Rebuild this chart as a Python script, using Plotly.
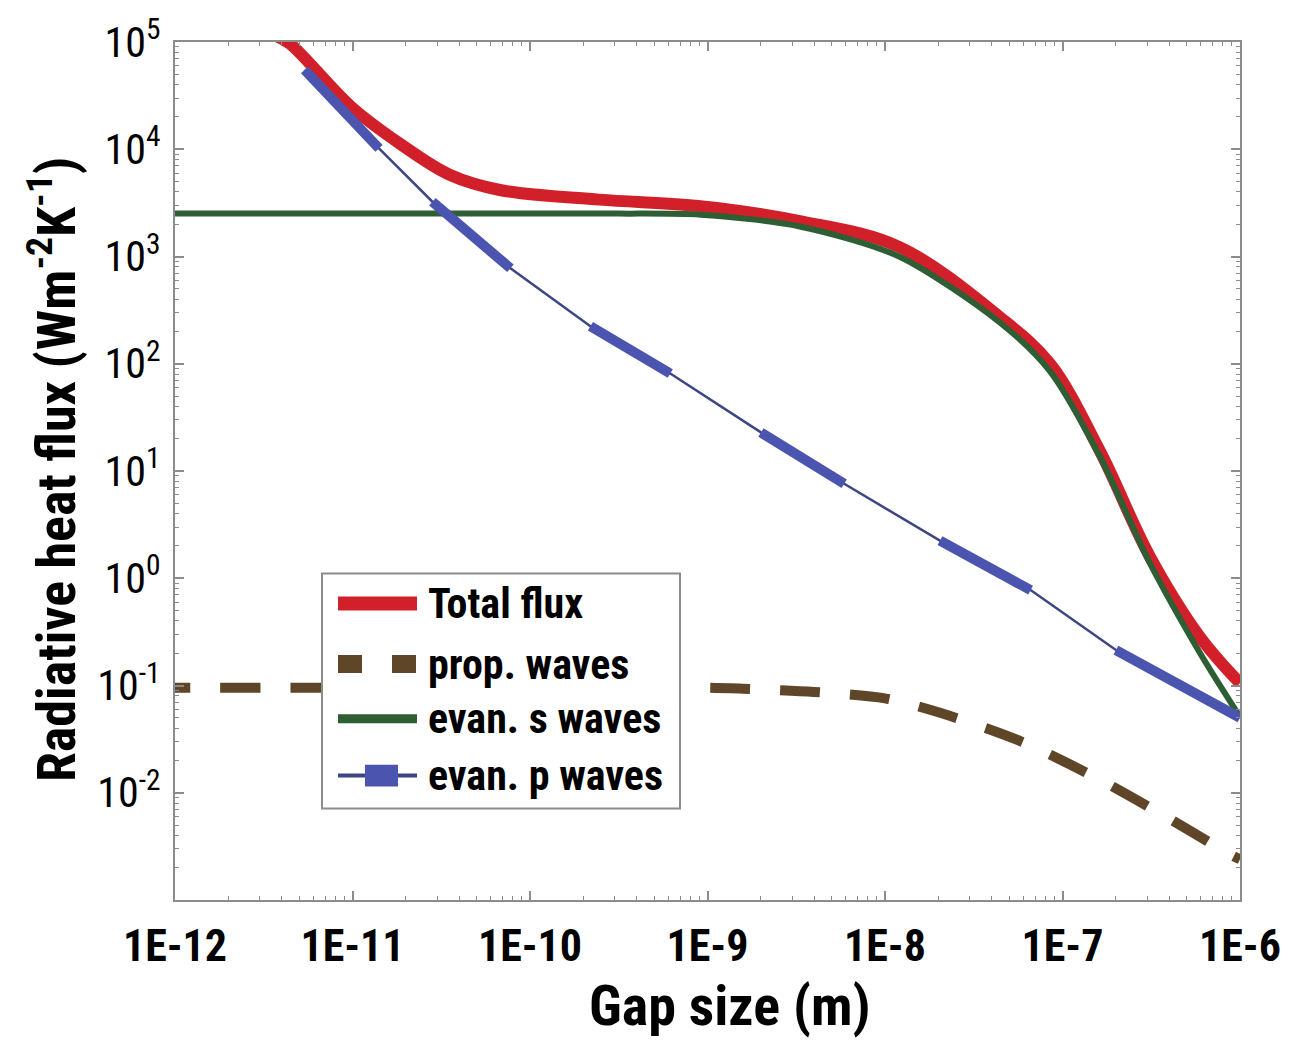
import plotly.graph_objects as go

# ---- data (gap size in m, heat flux in W m^-2 K^-1) ----
gap_total = [3.80e-12, 4.47e-12, 9.77e-12, 1.86e-11, 3.55e-11, 6.76e-11, 2.45e-10,
             9.12e-10, 3.31e-9, 1.20e-8, 4.47e-8, 8.51e-8, 1.62e-7, 3.09e-7, 5.96e-7, 1.0e-6]
flux_total = [1.12e5, 9.55e4, 2.51e4, 1.12e4, 5.75e3, 4.17e3, 3.39e3,
              2.95e3, 2.14e3, 1.23e3, 269, 100, 15.5, 1.62, 0.282, 0.105]

gap_prop = [7.24e-13, 1.0e-11, 1.0e-10, 1.0e-9, 1.58e-9, 3.98e-9, 1.0e-8, 2.0e-8, 5.62e-8,
            1.51e-7, 3.89e-7, 8.71e-7, 1.0e-6]
flux_prop = [0.0955, 0.0955, 0.0955, 0.0955, 0.0933, 0.0871, 0.0759, 0.0562, 0.0309,
             0.0141, 0.00589, 0.00269, 0.0024]

gap_s = [1.0e-12, 1.0e-11, 1.0e-10, 3.16e-10, 9.12e-10, 3.31e-9, 1.20e-8, 4.47e-8, 8.51e-8,
         1.62e-7, 3.09e-7, 5.96e-7, 1.0e-6]
flux_s = [2512, 2512, 2512, 2512, 2455, 1905, 1000, 240, 85, 13.8, 1.41, 0.20, 0.051]

gap_p = [5.37e-12, 1.41e-11, 2.82e-11, 7.76e-11, 2.19e-10, 6.17e-10,
         2.00e-9, 5.89e-9, 2.04e-8, 6.61e-8, 2.00e-7, 1.0e-6]
flux_p = [5.5e4, 1.02e4, 3.24e3, 776, 224, 81, 22.9, 7.6, 2.24, 0.776, 0.214, 0.050]
# index pairs of the p-wave points joined by the heavy marker segments
p_marker_pairs = [(0, 1), (2, 3), (4, 5), (6, 7), (8, 9), (10, 11)]

x_tickvals = [1e-12, 1e-11, 1e-10, 1e-9, 1e-8, 1e-7, 1e-6]
x_ticktext = ["1E-12", "1E-11", "1E-10", "1E-9", "1E-8", "1E-7", "1E-6"]
y_tickvals = [1e-2, 1e-1, 1e0, 1e1, 1e2, 1e3, 1e4, 1e5]
y_ticktext = ["10<sup>-2</sup>", "10<sup>-1</sup>", "10<sup>0</sup>", "10<sup>1</sup>",
              "10<sup>2</sup>", "10<sup>3</sup>", "10<sup>4</sup>", "10<sup>5</sup>"]

legend_labels = ["Total flux", "prop. waves", "evan. s waves", "evan. p waves"]

# ---- styling ----
RED = "#d2202b"
BROWN = "#5f4628"
GREEN = "#2e5e34"
BLUE = "#4b55b0"
BLUE_THIN = "#3d4585"
AXIS_GREY = "#8c8c8c"
FONT = "Liberation Sans Narrow, Arial Narrow, Roboto Condensed, Liberation Sans, Arial, sans-serif"

W, H = 1295, 1041
ML, MR, MT, MB = 175, 55, 38, 141
PW, PH = W - ML - MR, H - MT - MB


def px(xp):
    return (xp - ML) / PW


def py(yp):
    return (H - MB - yp) / PH


fig = go.Figure()

fig.add_trace(go.Scatter(x=gap_total, y=flux_total, mode="lines", name=legend_labels[0],
                         line=dict(color=RED, width=12, shape="spline", smoothing=1.0),
                         showlegend=False))
fig.add_trace(go.Scatter(x=gap_prop, y=flux_prop, mode="lines", name=legend_labels[1],
                         line=dict(color=BROWN, width=10, dash="40px,30px",
                                   shape="spline", smoothing=0.8),
                         showlegend=False))
fig.add_trace(go.Scatter(x=gap_s, y=flux_s, mode="lines", name=legend_labels[2],
                         line=dict(color=GREEN, width=6, shape="spline", smoothing=0.8),
                         showlegend=False))
fig.add_trace(go.Scatter(x=gap_p, y=flux_p, mode="lines", name=legend_labels[3],
                         line=dict(color=BLUE_THIN, width=2.5), showlegend=False))

seg_x, seg_y = [], []
for a, b in p_marker_pairs:
    seg_x += [gap_p[a], gap_p[b], None]
    seg_y += [flux_p[a], flux_p[b], None]
fig.add_trace(go.Scatter(x=seg_x, y=seg_y, mode="lines", name=legend_labels[3],
                         line=dict(color=BLUE, width=10), showlegend=False,
                         connectgaps=False))

# ---- hand-built legend box ----
shapes = [
    dict(type="rect", xref="paper", yref="paper", x0=px(322), x1=px(680), y0=py(808), y1=py(572),
         fillcolor="white", line=dict(color=AXIS_GREY, width=2), layer="above"),
    dict(type="line", xref="paper", yref="paper", x0=px(338), x1=px(417), y0=py(602), y1=py(602),
         line=dict(color=RED, width=14), layer="above"),
    dict(type="line", xref="paper", yref="paper", x0=px(338), x1=px(417), y0=py(663), y1=py(663),
         line=dict(color=BROWN, width=18, dash="24px,30px"), layer="above"),
    dict(type="line", xref="paper", yref="paper", x0=px(338), x1=px(417), y0=py(718), y1=py(718),
         line=dict(color=GREEN, width=9), layer="above"),
    dict(type="line", xref="paper", yref="paper", x0=px(338), x1=px(417), y0=py(775), y1=py(775),
         line=dict(color=BLUE_THIN, width=4), layer="above"),
    dict(type="rect", xref="paper", yref="paper", x0=px(365), x1=px(398), y0=py(786), y1=py(764),
         fillcolor=BLUE, line=dict(width=0), layer="above"),
]
annotations = []
for label, yp in zip(legend_labels, [602, 663, 718, 775]):
    annotations.append(dict(xref="paper", yref="paper", x=px(426), y=py(yp), text=label,
                            showarrow=False, xanchor="left", yanchor="middle",
                            font=dict(family=FONT, size=42, color="black", weight="bold")))

# axis titles
annotations.append(dict(xref="paper", yref="paper", x=px(730), y=py(1006), text="Gap size (m)",
                        showarrow=False, xanchor="center", yanchor="middle",
                        font=dict(family=FONT, size=56, color="black", weight="bold")))
annotations.append(dict(xref="paper", yref="paper", x=px(52), y=py(468),
                        text="Radiative heat flux (Wm<sup>-2</sup>K<sup>-1</sup>)",
                        textangle=-90, showarrow=False, xanchor="center", yanchor="middle",
                        font=dict(family=FONT, size=54, color="black", weight="bold")))

axis_common = dict(
    type="log", showline=True, linecolor=AXIS_GREY, linewidth=2, mirror="ticks",
    ticks="inside", ticklen=9, tickwidth=1.5, tickcolor=AXIS_GREY,
    showgrid=False, zeroline=False, tickmode="array",
    minor=dict(ticks="inside", ticklen=4, tickwidth=1.2, tickcolor=AXIS_GREY,
               dtick="D1", showgrid=False),
)

fig.update_layout(
    width=W, height=H,
    margin=dict(l=ML, r=MR, t=MT, b=MB),
    paper_bgcolor="white", plot_bgcolor="white",
    showlegend=False,
    xaxis=dict(axis_common, range=[-12, -6], tickvals=x_tickvals, ticktext=x_ticktext,
               ticklabelstandoff=6,
               tickfont=dict(family=FONT, size=44, color="black", weight="bold")),
    yaxis=dict(axis_common, range=[-3, 5], tickvals=y_tickvals, ticktext=y_ticktext,
               ticklabelstandoff=4,
               tickfont=dict(family=FONT, size=42, color="black")),
    shapes=shapes,
    annotations=annotations,
)

fig.write_html("out.html")
